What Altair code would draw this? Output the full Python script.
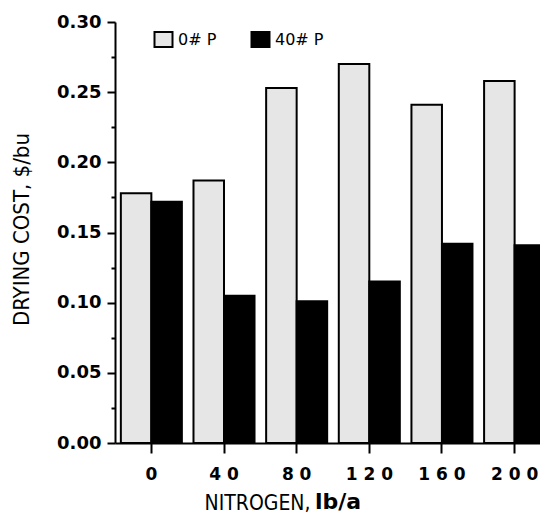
import altair as alt
import pandas as pd

# ---- data ----
nitrogen = ["0", "40", "80", "120", "160", "200"]
phos_levels = ["0# P", "40# P"]
cost_0p = [0.178, 0.187, 0.253, 0.270, 0.241, 0.258]
cost_40p = [0.172, 0.105, 0.101, 0.115, 0.142, 0.141]
major_ticks = [0.00, 0.05, 0.10, 0.15, 0.20, 0.25, 0.30]
minor_ticks = [0.025, 0.075, 0.125, 0.175, 0.225, 0.275]
x_title = "NITROGEN,"
x_unit = ["lb/a"]
y_title = "DRYING COST, $/bu"

rows = []
for n, a, b in zip(nitrogen, cost_0p, cost_40p):
    rows.append({"N": n, "P": phos_levels[0], "cost": a})
    rows.append({"N": n, "P": phos_levels[1], "cost": b})
df = pd.DataFrame(rows)

WIDE = "DejaVu Sans"
NARROW = "Liberation Sans Narrow, DejaVu Sans Condensed, Roboto"

yscale = alt.Scale(domain=[0, 0.30], nice=False, zero=True)

bars = alt.Chart(df).mark_bar(stroke="black", strokeWidth=2).encode(
    x=alt.X(
        "N:N",
        sort=nitrogen,
        scale=alt.Scale(range=[0, 433], paddingInner=0.16, paddingOuter=0.06, align=0.67),
        axis=alt.Axis(
            title=x_title,
            titleFont=NARROW,
            titleFontSize=21,
            titleFontWeight="normal",
            titleColor="black",
            titleAlign="right",
            titleBaseline="alphabetic",
            titleX=195,
            titleY=66,
            labelFont=WIDE,
            labelFontWeight="bold",
            labelFontSize=17,
            labelColor="black",
            labelAngle=0,
            labelPadding=13,
            labelExpr="join(split(datum.label, ''), ' ')",
            tickSize=10,
            tickWidth=2,
            tickColor="black",
            domainColor="black",
            domainWidth=2,
            grid=False,
        ),
    ),
    xOffset=alt.XOffset(
        "P:N", sort=phos_levels, scale=alt.Scale(paddingInner=0, paddingOuter=0)
    ),
    y=alt.Y(
        "cost:Q",
        scale=yscale,
        axis=alt.Axis(
            values=major_ticks,
            format=".2f",
            title=y_title,
            titleFont=NARROW,
            titleFontSize=22,
            titleFontWeight="normal",
            titleColor="black",
            titleAngle=270,
            titleAlign="center",
            titleBaseline="middle",
            titleX=-94,
            titleY=207,
            labelFont=WIDE,
            labelFontWeight="bold",
            labelFontSize=18,
            labelColor="black",
            labelPadding=6,
            tickSize=8,
            tickWidth=2,
            tickColor="black",
            domainColor="black",
            domainWidth=2,
            grid=False,
            orient="left",
        ),
    ),
    color=alt.Color(
        "P:N",
        sort=phos_levels,
        scale=alt.Scale(domain=phos_levels, range=["#e6e6e6", "black"]),
        legend=alt.Legend(
            title=None,
            orient="none",
            legendX=40,
            legendY=9,
            direction="horizontal",
            padding=0,
            symbolType="M-1.2,-1L1.2,-1L1.2,1L-1.2,1Z",
            symbolSize=225,
            symbolStrokeColor="black",
            symbolStrokeWidth=2,
            labelFont=WIDE,
            labelFontSize=16,
            labelColor="black",
            labelOffset=6,
            columnPadding=30,
        ),
    ),
)

minor = alt.Chart(df).mark_point(opacity=0).encode(
    y=alt.Y(
        "cost:Q",
        scale=yscale,
        axis=alt.Axis(
            values=minor_ticks,
            labels=False,
            domain=False,
            title=None,
            tickSize=4,
            tickWidth=2,
            tickColor="black",
            grid=False,
            orient="left",
        ),
    )
)

unit = alt.Chart(pd.DataFrame({"t": x_unit})).mark_text(
    align="left", baseline="alphabetic", font=WIDE, fontSize=22,
    fontWeight="bold", color="black"
).encode(text="t:N", x=alt.value(200), y=alt.value(487))

chart = (
    alt.layer(bars, minor, unit)
    .resolve_axis(y="independent")
    .properties(
        width=425,
        height=421,
        autosize=alt.AutoSizeParams(type="none"),
        padding={"left": 107, "top": 14, "right": 0, "bottom": 70},
        background="white",
    )
    .configure_view(stroke=None)
)

chart.save("out.html", embed_options={"renderer": "svg", "actions": False})
